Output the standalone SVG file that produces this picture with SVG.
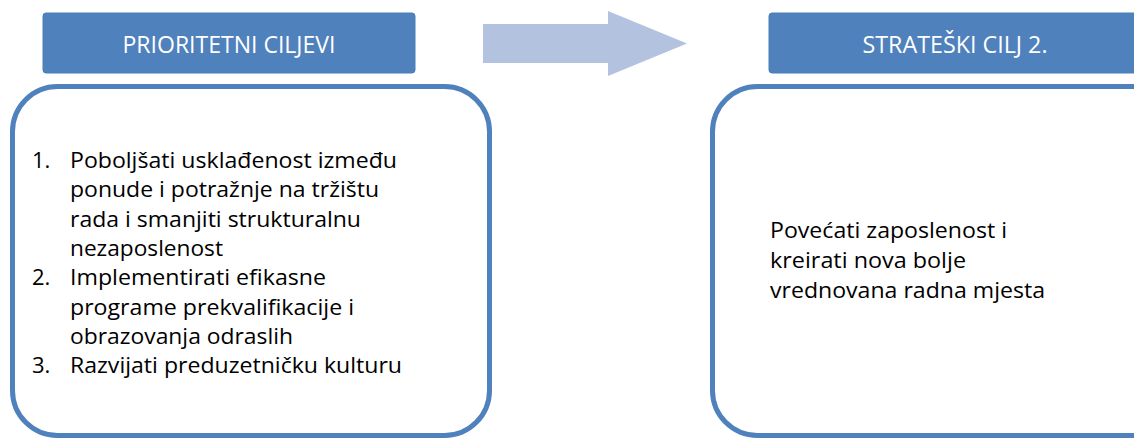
<svg xmlns="http://www.w3.org/2000/svg" width="1134" height="440" viewBox="0 0 1134 440">
<style>
.hdr{fill:#4F81BD;stroke:#4A7EBB;stroke-width:1}
.hdrtxt{font-family:"Open Sans",sans-serif;font-size:23px;fill:#FFFFFF;text-anchor:middle}
.body{fill:#FFFFFF;stroke:#4F81BD;stroke-width:5}
.txt{font-family:"Open Sans",sans-serif;font-size:22px;fill:#000000}
</style>
<rect width="1134" height="440" fill="#FFFFFF"/>
<g id="connectors">
<polygon points="483,24 608,24 608,11 687,43.5 608,76 608,63 483,63" fill="#B3C3DF"/>
</g>
<g id="hdr-left">
<rect class="hdr" x="43" y="13" width="372" height="60" rx="3"/>
<text class="hdrtxt" x="229" y="53" textLength="213" lengthAdjust="spacingAndGlyphs">PRIORITETNI CILJEVI</text>
</g>
<g id="hdr-right">
<rect class="hdr" x="769" y="13" width="372" height="60" rx="3"/>
<text class="hdrtxt" x="955" y="53" textLength="185" lengthAdjust="spacingAndGlyphs">STRATEŠKI CILJ 2.</text>
</g>
<g id="body-left">
<rect class="body" x="12.5" y="86.5" width="477" height="349" rx="45"/>
<g class="txt">
<text x="32" y="168">1.</text>
<text x="70" y="168" textLength="327" lengthAdjust="spacingAndGlyphs">Poboljšati usklađenost između</text>
<text x="70" y="197.3" textLength="309" lengthAdjust="spacingAndGlyphs">ponude i potražnje na tržištu</text>
<text x="70" y="226.6" textLength="291" lengthAdjust="spacingAndGlyphs">rada i smanjiti strukturalnu</text>
<text x="70" y="255.9" textLength="153" lengthAdjust="spacingAndGlyphs">nezaposlenost</text>
<text x="32" y="285.2">2.</text>
<text x="70" y="285.2" textLength="256" lengthAdjust="spacingAndGlyphs">Implementirati efikasne</text>
<text x="70" y="314.5" textLength="284" lengthAdjust="spacingAndGlyphs">programe prekvalifikacije i</text>
<text x="70" y="343.8" textLength="223" lengthAdjust="spacingAndGlyphs">obrazovanja odraslih</text>
<text x="32" y="373.1">3.</text>
<text x="70" y="373.1" textLength="332" lengthAdjust="spacingAndGlyphs">Razvijati preduzetničku kulturu</text>
</g>
</g>
<g id="body-right">
<rect class="body" x="712.5" y="86.5" width="477" height="349" rx="45"/>
<g class="txt">
<text x="770" y="238" textLength="237" lengthAdjust="spacingAndGlyphs">Povećati zaposlenost i</text>
<text x="770" y="268" textLength="196" lengthAdjust="spacingAndGlyphs">kreirati nova bolje</text>
<text x="770" y="298" textLength="275" lengthAdjust="spacingAndGlyphs">vrednovana radna mjesta</text>
</g>
</g>
</svg>
